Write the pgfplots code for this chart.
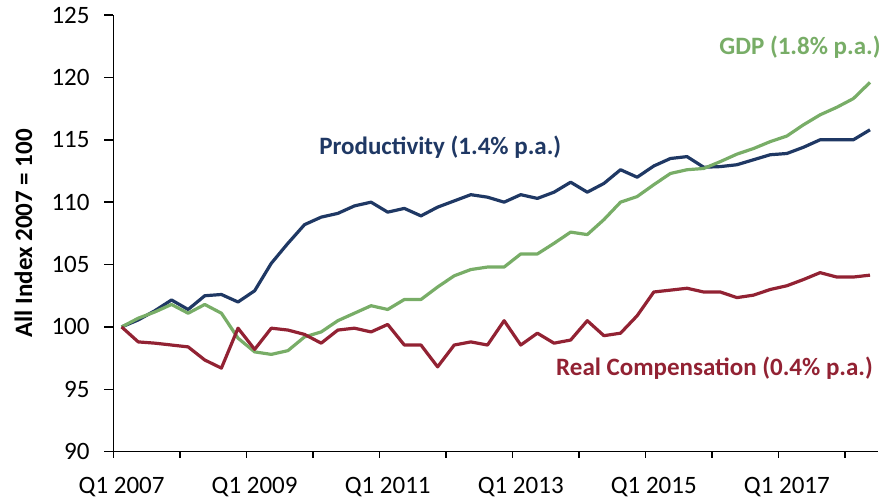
\documentclass[border=0pt]{standalone}
\usepackage{fontspec}
\setmainfont{Carlito}
\usepackage{pgfplots}
\usepackage{pgfplotstable}
\pgfplotsset{compat=1.18}
\definecolor{prodc}{HTML}{1F3864}
\definecolor{gdpc}{HTML}{78AD67}
\definecolor{rcc}{HTML}{922233}
\pgfplotstableread{
i prod gdp rc
0 100 100 100
1 100.56 100.7 98.8
2 101.3 101.2 98.7
3 102.16 101.8 98.55
4 101.4 101.1 98.4
5 102.5 101.8 97.35
6 102.6 101.1 96.7
7 102.0 99.1 99.9
8 102.9 98.0 98.2
9 105.1 97.8 99.9
10 106.7 98.1 99.75
11 108.2 99.2 99.4
12 108.8 99.6 98.7
13 109.1 100.5 99.75
14 109.7 101.1 99.9
15 110.0 101.7 99.6
16 109.2 101.4 100.2
17 109.5 102.2 98.55
18 108.9 102.2 98.55
19 109.6 103.2 96.8
20 110.1 104.1 98.55
21 110.6 104.6 98.8
22 110.4 104.8 98.55
23 110.0 104.8 100.5
24 110.6 105.85 98.55
25 110.3 105.85 99.5
26 110.8 106.7 98.7
27 111.6 107.6 98.95
28 110.8 107.4 100.5
29 111.5 108.6 99.3
30 112.6 110.0 99.5
31 112.0 110.45 100.9
32 112.9 111.4 102.8
33 113.5 112.3 102.95
34 113.65 112.6 103.1
35 112.8 112.7 102.8
36 112.85 113.25 102.8
37 113.0 113.85 102.35
38 113.4 114.3 102.55
39 113.8 114.85 103.0
40 113.9 115.3 103.3
41 114.4 116.2 103.8
42 115.0 117.0 104.35
43 115.0 117.6 104.0
44 115.0 118.3 104.0
45 115.8 119.6 104.15
}\datatable
\begin{document}
\fontsize{12.5}{15}\selectfont
\begin{tikzpicture}
\begin{axis}[
  scale only axis,
  width=382.5pt, height=218.35pt,
  xmin=-0.5, xmax=45.5,
  ymin=90, ymax=125,
  axis x line=bottom, axis y line=left,
  axis line style={-, line width=0.75pt, black},
  tick align=outside,
  xtick={0,8,16,24,32,40},
  xticklabels={Q1 2007,Q1 2009,Q1 2011,Q1 2013,Q1 2015,Q1 2017},
  minor xtick={-0.5,3.5,...,43.5},
  major x tick style={draw=none},
  minor x tick style={line width=0.75pt, black},
  minor tick length=3pt,
  ytick={90,95,...,125},
  major y tick style={line width=0.75pt, black},
  major tick length=4.5pt,
  /pgf/number format/assume math mode=true,
  ticklabel style={font=\fontsize{12.5}{15}\selectfont},
  yticklabel style={xshift=-3pt},
  xticklabel style={yshift=-4pt},
  ylabel={\bfseries All Index 2007 = 100},
  ylabel style={at={(axis description cs:-0.1176,0.5)}, anchor=center, font=\fontsize{12.5}{15}\selectfont},
  clip=false,
]
\addplot[prodc, line width=1.6pt, line join=round] table[x=i, y=prod] {\datatable};
\addplot[gdpc, line width=1.6pt, line join=round] table[x=i, y=gdp] {\datatable};
\addplot[rcc, line width=1.6pt, line join=round] table[x=i, y=rc] {\datatable};
\node[anchor=west, inner sep=0pt, text=prodc, font=\fontsize{12.5}{15}\selectfont\bfseries] at (axis cs:11.86,114.43) {Productivity (1.4\% p.a.)};
\node[anchor=west, inner sep=0pt, text=gdpc, font=\fontsize{12.5}{15}\selectfont\bfseries] at (axis cs:35.92,122.44) {GDP (1.8\% p.a.)};
\node[anchor=west, inner sep=0pt, text=rcc, font=\fontsize{12.5}{15}\selectfont\bfseries] at (axis cs:26.11,96.71) {Real Compensation (0.4\% p.a.)};
\coordinate (bl) at (rel axis cs:0,0);
\coordinate (tr) at (rel axis cs:1,1);
\end{axis}
\pgfresetboundingbox
\path ([xshift=-56.65pt,yshift=-23.65pt]bl) rectangle ([xshift=0.85pt,yshift=7.5pt]tr);
\end{tikzpicture}
\end{document}
